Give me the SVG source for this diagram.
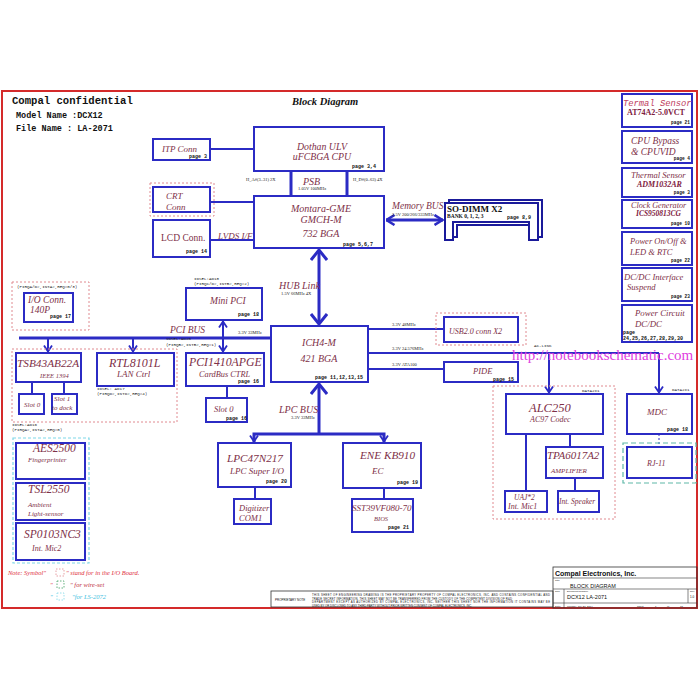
<svg xmlns="http://www.w3.org/2000/svg" width="700" height="700" viewBox="0 0 700 700">
<defs>
<style>
.bx{fill:#fff;stroke:#2b2bc4;stroke-width:2}
.dp{fill:none;stroke:#e08a90;stroke-width:1;stroke-dasharray:2,2}
.dc{fill:none;stroke:#7fd8e8;stroke-width:1.2;stroke-dasharray:3,2}
.ln{fill:none;stroke:#2b2bc4;stroke-width:2}
.th{fill:none;stroke:#2b2bc4;stroke-width:3}
.t{font-family:"Liberation Serif",serif;font-style:italic;fill:#7e3048}
.tn{font-family:"Liberation Serif",serif;fill:#7e3048}
.tb{font-family:"Liberation Serif",serif;font-weight:bold;fill:#7e2040}
.pg{font-family:"Liberation Mono",monospace;font-weight:bold;font-size:5px;fill:#111}
.pr{font-family:"Liberation Mono",monospace;font-weight:bold;font-size:4.5px;fill:#111;text-anchor:end}
.sm{font-family:"Liberation Mono",monospace;font-size:4.2px;fill:#222}
.ss{font-family:"Liberation Serif",serif;font-size:4.5px;fill:#222}
.hd{font-family:"Liberation Mono",monospace;font-weight:bold;fill:#111}
.nt{font-family:"Liberation Serif",serif;font-style:italic;font-size:6.5px}
.tk{font-family:"Liberation Sans",sans-serif;fill:#111}
</style>
<marker id="big" viewBox="0 0 12 18" refX="11" refY="9" markerWidth="12" markerHeight="18" markerUnits="userSpaceOnUse" orient="auto-start-reverse"><path d="M1,1 L11,9 L1,17" fill="none" stroke="#2b2bc4" stroke-width="3"/></marker>
<marker id="sml" viewBox="0 0 8 10" refX="7.5" refY="5" markerWidth="8" markerHeight="10" markerUnits="userSpaceOnUse" orient="auto-start-reverse"><path d="M1,1 L7,5 L1,9" fill="none" stroke="#2b2bc4" stroke-width="1.8"/></marker>
<marker id="mid" viewBox="0 0 10 12" refX="9.5" refY="6" markerWidth="10" markerHeight="12" markerUnits="userSpaceOnUse" orient="auto-start-reverse"><path d="M1,1 L9,6 L1,11" fill="none" stroke="#2b2bc4" stroke-width="2.5"/></marker>
</defs>
<rect x="0" y="0" width="700" height="700" fill="#fff"/>
<rect x="2" y="91" width="695" height="517" fill="none" stroke="#d42a2a" stroke-width="2"/>

<g id="header">
<text x="12" y="104" class="hd" font-size="10.6">Compal confidential</text>
<text x="16" y="118" class="hd" font-size="8.5">Model Name :DCX12</text>
<text x="16" y="131" class="hd" font-size="8.5">File Name : LA-2071</text>
<text x="292" y="105" font-family="Liberation Serif,serif" font-weight="bold" font-style="italic" font-size="10.5" fill="#111">Block Diagram</text>
</g>

<g id="connectors">
<line class="ln" x1="210" y1="149" x2="254" y2="149"/>
<line class="ln" x1="210" y1="202" x2="254" y2="202"/>
<line class="ln" x1="210" y1="240" x2="254" y2="240"/>
<line class="th" x1="291" y1="171" x2="291" y2="196"/>
<line class="th" x1="347" y1="171" x2="347" y2="196"/>
<line class="th" x1="386" y1="220" x2="443" y2="220" marker-start="url(#mid)" marker-end="url(#mid)"/>
<line class="th" x1="319" y1="250" x2="319" y2="324" marker-start="url(#big)" marker-end="url(#big)"/>
<line class="th" x1="19" y1="338" x2="271" y2="338"/>
<line class="ln" x1="48" y1="338" x2="48" y2="352" marker-end="url(#sml)"/>
<line class="ln" x1="133" y1="338" x2="133" y2="352" marker-end="url(#sml)"/>
<line class="ln" x1="223" y1="321" x2="223" y2="352" marker-start="url(#sml)" marker-end="url(#sml)"/>
<line class="ln" x1="227" y1="386" x2="227" y2="398"/>
<line class="ln" x1="32" y1="382" x2="32" y2="394"/>
<line class="ln" x1="64" y1="382" x2="64" y2="394"/>
<line class="ln" x1="368" y1="329" x2="444" y2="329"/>
<line class="ln" x1="368" y1="353" x2="659" y2="353"/>
<line class="ln" x1="368" y1="369" x2="444" y2="369"/>
<line class="ln" x1="549" y1="353" x2="549" y2="393" marker-end="url(#sml)"/>
<line class="ln" x1="659" y1="353" x2="659" y2="393" marker-end="url(#sml)"/>
<line class="th" x1="319" y1="384" x2="319" y2="434" marker-start="url(#big)"/>
<polyline class="th" points="254,442 254,434 384,434 384,442"/>
<line class="ln" x1="254" y1="436" x2="254" y2="442" marker-end="url(#sml)"/>
<line class="ln" x1="384" y1="436" x2="384" y2="442" marker-end="url(#sml)"/>
<line class="ln" x1="255" y1="487" x2="255" y2="499"/>
<line class="ln" x1="384" y1="488" x2="384" y2="499"/>
<line class="ln" x1="526" y1="434" x2="526" y2="491"/>
<line class="ln" x1="570" y1="434" x2="570" y2="447"/>
<line class="ln" x1="575" y1="478" x2="575" y2="491"/>
<line x1="659" y1="434" x2="659" y2="447" stroke="#2b2bc4" stroke-width="1" stroke-dasharray="2,2"/>
<text x="246" y="181" class="ss">H_A#(3..31) 2X</text>
<text x="353" y="181" class="ss">H_D#(0..63) 4X</text>
<text x="303" y="185" class="t" font-size="10">PSB</text>
<text x="298" y="190" class="ss">1.05V 100MHz</text>
<text x="392" y="209" class="t" font-size="9.5">Memory BUS</text>
<text x="392" y="216" class="ss">2.5V 200/266/333MHz</text>
<text x="218" y="239" class="t" font-size="9">LVDS I/F</text>
<text x="279" y="289" class="t" font-size="10">HUB Link</text>
<text x="281" y="295" class="ss">1.5V 66MHz 4X</text>
<text x="170" y="333" class="t" font-size="9.5">PCI BUS</text>
<text x="238" y="334" class="ss">3.3V 33MHz</text>
<text x="392" y="326" class="ss">3.3V 48MHz</text>
<text x="392" y="350" class="ss">3.3V 24.576MHz</text>
<text x="392" y="366" class="ss">3.3V ATA100</text>
<text x="534" y="347" class="sm">AC-LINK</text>
<text x="279" y="413" class="t" font-size="10">LPC BUS</text>
<text x="291" y="419" class="ss">3.3V 33MHz</text>
</g>

<g id="itp"><rect class="bx" x="153" y="139" width="57" height="21"/><text x="162" y="152" class="t" font-size="9">ITP Conn</text><text x="189" y="158" class="pg" font-size="4.5">page 3</text></g>
<g id="crt"><rect class="dp" x="150" y="183" width="64" height="33"/><rect class="bx" x="153" y="187" width="57" height="25"/><text x="166" y="199" class="t" font-size="9">CRT</text><text x="166" y="210" class="t" font-size="9">Conn</text></g>
<g id="lcd"><rect class="bx" x="153" y="220" width="57" height="37"/><text x="161" y="241" class="tn" font-size="9.5">LCD Conn.</text><text x="186" y="253" class="pg" font-size="4.5">page 14</text></g>
<g id="cpu"><rect class="bx" x="254" y="127" width="130" height="44"/><text x="322" y="150" class="t" font-size="9.8" text-anchor="middle">Dothan ULV</text><text x="322" y="160" class="t" font-size="9.8" text-anchor="middle">uFCBGA CPU</text><text x="352" y="168" class="pg">page 3,4</text></g>
<g id="gmch"><rect class="bx" x="254" y="196" width="130" height="52"/><text x="321" y="212" class="t" font-size="10" text-anchor="middle">Montara-GME</text><text x="321" y="223" class="t" font-size="10" text-anchor="middle">GMCH-M</text><text x="321" y="237" class="t" font-size="10" text-anchor="middle">732 BGA</text><text x="343" y="246" class="pg">page 5,6,7</text></g>
<g id="sodimm">
<path d="M449,200 H542 V237 H533 V225 H457 V237 H449 Z" fill="#fff" stroke="#1a1a9a" stroke-width="2"/>
<path d="M445,203 H538 V240 H529 V222 H453 V240 H445 Z" fill="#fff" stroke="#1a1a9a" stroke-width="2"/>
<text x="447" y="212" font-family="Liberation Serif,serif" font-weight="bold" font-size="9" fill="#111">SO-DIMM X2</text>
<text x="447" y="218" font-family="Liberation Serif,serif" font-weight="bold" font-size="5.5" fill="#111">BANK 0, 1, 2, 3</text>
<text x="507" y="219" class="pg" font-size="4.5">page 8,9</text>
</g>

<g id="termal"><rect class="bx" x="622" y="94" width="70" height="33"/><text x="623" y="106" font-family="Liberation Mono,monospace" font-style="italic" font-size="8.8" fill="#c04060">Termal Sensor</text><text x="627" y="115" class="tb" font-size="8">AT74A2-5.0VCT</text><text x="690" y="124" class="pr">page 21</text></g>
<g id="cpubypass"><rect class="bx" x="622" y="131" width="70" height="32"/><text x="631" y="144" class="t" font-size="9.5">CPU Bypass</text><text x="631" y="155" class="t" font-size="9.5">&amp; CPUVID</text><text x="690" y="160" class="pr">page 4</text></g>
<g id="thermal"><rect class="bx" x="622" y="168" width="70" height="29"/><text x="631" y="178" class="t" font-size="8.6">Thermal Sensor</text><text x="637" y="187" class="tb" font-style="italic" font-size="8">ADM1032AR</text><text x="690" y="194" class="pr">page 3</text></g>
<g id="clockgen"><rect class="bx" x="622" y="200" width="70" height="28"/><text x="631" y="207.5" class="t" font-size="8.2">Clock Generator</text><text x="636" y="216" class="tb" font-style="italic" font-size="7.5">ICS950813CG</text><text x="690" y="225" class="pr">page 10</text></g>
<g id="poweronoff"><rect class="bx" x="622" y="232" width="70" height="33"/><text x="630" y="244" class="t" font-size="8.5">Power On/Off &amp;</text><text x="630" y="255" class="t" font-size="8.5">LED &amp; RTC</text><text x="690" y="262" class="pr">page 22</text></g>
<g id="dcdcif"><rect class="bx" x="622" y="268" width="70" height="33"/><text x="624" y="280" class="t" font-size="8.6">DC/DC Interface</text><text x="627" y="290" class="t" font-size="8.6">Suspend</text><text x="690" y="298" class="pr">page 23</text></g>
<g id="powercircuit"><rect class="bx" x="622" y="305" width="70" height="37"/><text x="635" y="316" class="t" font-size="8.8">Power Circuit</text><text x="635" y="327" class="t" font-size="8.8">DC/DC</text><text x="623" y="334" class="pg" font-size="4.3">page</text><text x="623" y="340" class="pg" font-size="4.3">24,25,26,27,28,29,30</text></g>

<g id="ioconn"><rect class="dp" x="12" y="282" width="77" height="48"/><text x="17" y="288" class="sm">(PIRQA/D#,INTA#,REQ#0/3)</text><rect class="bx" x="24" y="293" width="49" height="29"/><text x="28" y="303" class="t" font-size="9.5">I/O Conn.</text><text x="30" y="313" class="t" font-size="9.5">140P</text><text x="50" y="318" class="pg" font-size="4.5">page 17</text></g>
<g id="minipci"><text x="194" y="280" class="sm">IDSEL:AD18</text><text x="194" y="285" class="sm">(PIRQC/D#,INTB#,REQ#2)</text><rect class="bx" x="186" y="288" width="76" height="32"/><text x="210" y="304" class="t" font-size="9.5">Mini PCI</text><text x="238" y="316" class="pg" font-size="4.5">page 18</text></g>
<g id="pci1410"><text x="166" y="340" class="sm">IDSEL:AD20</text><text x="166" y="346" class="sm">(PIRQB#,INTB#,REQ#1)</text><rect class="bx" x="186" y="353" width="78" height="33"/><text x="189" y="366" class="t" font-size="11.8">PCI1410APGE</text><text x="199" y="376.5" class="t" font-size="8.3">CardBus CTRL</text><text x="238" y="383" class="pg" font-size="4.5">page 16</text></g>
<g id="cardslot"><rect class="bx" x="206" y="398" width="41" height="24"/><text x="214" y="412" class="t" font-size="8.5">Slot 0</text><text x="226" y="420" class="pg" font-size="4.5">page 16</text></g>
<g id="tsb"><rect class="dp" x="12" y="349" width="165" height="73"/><rect class="bx" x="16" y="353" width="65" height="29"/><text x="17" y="367" class="t" font-size="11.3">TSB43AB22A</text><text x="40" y="378" class="t" font-size="6.5">IEEE 1394</text><text x="12" y="426" class="sm">IDSEL:AD16</text><text x="12" y="431" class="sm">(PIRQA#,INTA#,REQ#0)</text></g>
<g id="slot0"><rect class="bx" x="19" y="394" width="25" height="20"/><text x="24" y="407" class="t" font-size="7">Slot 0</text></g>
<g id="slot1"><rect class="bx" x="52" y="394" width="25" height="20"/><text x="54" y="401" class="t" font-size="7">Slot 1</text><text x="52" y="410" class="t" font-size="7">to dock</text></g>
<g id="rtl"><rect class="bx" x="97" y="353" width="77" height="33"/><text x="109" y="367" class="t" font-size="12">RTL8101L</text><text x="117" y="377" class="t" font-size="9">LAN Ctrl</text><text x="97" y="390" class="sm">IDSEL: AD17</text><text x="97" y="395" class="sm">(PIRQD#,INTD#,REQ#4)</text></g>
<g id="ich"><rect class="bx" x="271" y="326" width="97" height="56"/><text x="319" y="346" class="t" font-size="10" text-anchor="middle">ICH4-M</text><text x="319" y="362" class="t" font-size="10" text-anchor="middle">421 BGA</text><text x="315" y="379" class="pg" font-size="5.2">page 11,12,13,15</text></g>
<g id="usb"><rect class="dp" x="436" y="313" width="90" height="32"/><rect class="bx" x="444" y="317" width="74" height="25"/><text x="449" y="334" class="t" font-size="8">USB2.0 conn X2</text></g>
<g id="pide"><rect class="bx" x="444" y="362" width="74" height="20"/><text x="473" y="374" class="t" font-size="8.5">PIDE</text><text x="493" y="381" class="pg" font-size="4.5">page 15</text></g>

<g id="alc"><rect class="dp" x="493" y="386" width="122" height="133"/><text x="582" y="392" class="sm" font-size="3.5">DATA2x1</text><rect class="bx" x="506" y="394" width="97" height="40"/><text x="529" y="412" class="t" font-size="12.5">ALC250</text><text x="530" y="422" class="t" font-size="8">AC97 Codec</text></g>
<g id="tpa"><rect class="bx" x="546" y="447" width="57" height="31"/><text x="547" y="459" class="t" font-size="11">TPA6017A2</text><text x="551" y="473" class="t" font-size="7">AMPLIFIER</text></g>
<g id="uaj"><rect class="bx" x="505" y="491" width="42" height="21"/><text x="514" y="500" class="t" font-size="7.5">UAJ*2</text><text x="508" y="509" class="t" font-size="8">Int. Mic1</text></g>
<g id="speaker"><rect class="bx" x="558" y="491" width="41" height="21"/><text x="559" y="504" class="t" font-size="7.5">Int. Speaker</text></g>
<g id="mdc"><text x="672" y="391" class="sm" font-size="3.5">DATA2x1</text><rect class="bx" x="627" y="394" width="65" height="40"/><text x="647" y="415" class="t" font-size="9">MDC</text><text x="667" y="431" class="pg" font-size="4.5">page 18</text></g>
<g id="rj11"><rect x="623" y="443" width="73" height="40" fill="none" stroke="#5fb8a8" stroke-width="1.2" stroke-dasharray="5,3"/><rect class="bx" x="627" y="447" width="65" height="31"/><text x="647" y="466" class="t" font-size="8">RJ-11</text></g>

<g id="lpc47"><rect class="bx" x="218" y="443" width="73" height="44"/><text x="227" y="462" class="t" font-size="11.2">LPC47N217</text><text x="230" y="474" class="t" font-size="9">LPC  Super I/O</text><text x="266" y="483" class="pg" font-size="4.5">page 20</text></g>
<g id="digitizer"><rect class="bx" x="234" y="499" width="37" height="25"/><text x="239" y="511" class="t" font-size="8.5">Digitizer</text><text x="239" y="521" class="t" font-size="8.5">COM1</text></g>
<g id="ene"><rect class="bx" x="343" y="443" width="78" height="45"/><text x="360" y="459" class="t" font-size="11.2">ENE KB910</text><text x="372" y="474" class="t" font-size="9">EC</text><text x="397" y="484" class="pg" font-size="4.5">page 19</text></g>
<g id="sst"><rect class="bx" x="352" y="499" width="61" height="33"/><text x="352" y="511" class="t" font-size="9">SST39VF080-70</text><text x="374" y="521" class="t" font-size="6.5">BIOS</text><text x="388" y="529" class="pg" font-size="4.5">page 21</text></g>

<g id="iogroup"><rect class="dc" x="13" y="438" width="76" height="125"/></g>
<g id="aes"><rect class="bx" x="16" y="443" width="69" height="36"/><text x="33" y="452" class="t" font-size="11.5">AES2500</text><text x="28" y="462" class="t" font-size="7">Fingerprinter</text></g>
<g id="tsl"><rect class="bx" x="16" y="483" width="69" height="37"/><text x="28" y="493" class="t" font-size="11.5">TSL2550</text><text x="28" y="507" class="t" font-size="7">Ambient</text><text x="28" y="516" class="t" font-size="7">Light-sensor</text></g>
<g id="sp"><rect class="bx" x="16" y="523" width="69" height="37"/><text x="24" y="538" class="t" font-size="11.5">SP0103NC3</text><text x="32" y="551" class="t" font-size="8">Int. Mic2</text></g>

<g id="notes">
<text x="8" y="575" class="nt" fill="#e03040">Note: Symbol"</text>
<rect x="56" y="569" width="8" height="7" fill="none" stroke="#e08a90" stroke-width="0.8" stroke-dasharray="1.5,1.5"/>
<text x="66" y="575" class="nt" fill="#e03040">" stand for in the I/O Board.</text>
<text x="50" y="587" class="nt" fill="#e03040">"</text>
<rect x="57" y="581" width="7" height="7" fill="none" stroke="#40a060" stroke-width="0.8" stroke-dasharray="1.5,1.5"/>
<text x="70" y="587" class="nt" fill="#c03040">" for wire-set</text>
<text x="50" y="599" class="nt" fill="#40c0e0">"</text>
<rect x="57" y="593" width="7" height="7" fill="none" stroke="#7fd8e8" stroke-width="0.8" stroke-dasharray="1.5,1.5"/>
<text x="72" y="599" class="nt" fill="#40c0e0">"for LS-2072</text>
</g>

<g id="titleblock">
<rect x="271" y="591" width="282" height="16" fill="none" stroke="#333" stroke-width="0.8"/>
<text x="275" y="601" class="tk" font-size="3">PROPRIETARY NOTE</text>
<text x="312" y="596" class="tk" font-size="2.8" textLength="238">THIS SHEET OF ENGINEERING DRAWING IS THE PROPRIETARY PROPERTY OF COMPAL ELECTRONICS, INC. AND CONTAINS CONFIDENTIAL AND</text>
<text x="312" y="599.5" class="tk" font-size="2.8" textLength="200">TRADE SECRET INFORMATION. THIS SHEET MAY NOT BE TRANSFERRED FROM THE CUSTODY OF THE COMPETENT DIVISION OF R&amp;D</text>
<text x="312" y="603" class="tk" font-size="2.8" textLength="238">DEPARTMENT EXCEPT AS AUTHORIZED BY COMPAL ELECTRONICS, INC. NEITHER THIS SHEET NOR THE INFORMATION IT CONTAINS MAY BE</text>
<text x="312" y="606.5" class="tk" font-size="2.8" textLength="160">USED BY OR DISCLOSED TO ANY THIRD PARTY WITHOUT PRIOR WRITTEN CONSENT OF COMPAL ELECTRONICS, INC.</text>
<rect x="553" y="567" width="144" height="41" fill="none" stroke="#333" stroke-width="0.8"/>
<line x1="553" y1="578" x2="697" y2="578" stroke="#333" stroke-width="0.6"/>
<line x1="553" y1="589" x2="697" y2="589" stroke="#333" stroke-width="0.6"/>
<line x1="553" y1="603" x2="697" y2="603" stroke="#333" stroke-width="0.6"/>
<line x1="564" y1="589" x2="564" y2="608" stroke="#333" stroke-width="0.6"/>
<line x1="688" y1="589" x2="688" y2="603" stroke="#333" stroke-width="0.6"/>
<text x="555" y="576" class="tk" font-weight="bold" font-size="7">Compal Electronics, Inc.</text>
<text x="555" y="581" class="tk" font-size="2.5">Title</text>
<text x="570" y="588" class="tk" font-size="5.5">BLOCK DIAGRAM</text>
<text x="555" y="592" class="tk" font-size="2.5">Size</text>
<text x="567" y="592" class="tk" font-size="2.5">Document Number</text>
<text x="567" y="599" class="tk" font-size="5.5">DCX12 LA-2071</text>
<text x="690" y="592" class="tk" font-size="2.5">Rev</text>
<text x="690" y="598" class="tk" font-size="3">1.0</text>
<text x="555" y="606.5" class="tk" font-size="2.5">Date:</text>
<text x="567" y="606.5" class="tk" font-size="2.5">Tuesday, July 27, 2004</text>
<text x="637" y="606.5" class="tk" font-size="2.5">Sheet</text>
<text x="655" y="606.5" class="tk" font-size="2.5">1</text>
<text x="667" y="606.5" class="tk" font-size="2.5">of</text>
<text x="680" y="606.5" class="tk" font-size="2.5">33</text>
</g>

<text x="512" y="360" font-family="Liberation Serif,serif" font-size="15" fill="#e040e0">http://notebookschematic.com</text>
</svg>
